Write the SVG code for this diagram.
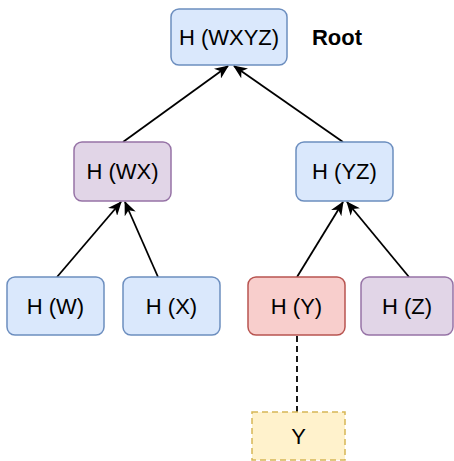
<svg xmlns="http://www.w3.org/2000/svg" width="454" height="461" viewBox="0 0 454 461">
<defs>
<marker id="arr" markerWidth="14" markerHeight="12" refX="13" refY="6" orient="auto" markerUnits="userSpaceOnUse">
<path d="M0,0 L14,6 L0,12 L4,6 Z" fill="#000"/>
</marker>
<style>
.n rect{stroke-width:1.5}
.blue rect{fill:#dae8fc;stroke:#6c8ebf}
.purple rect{fill:#e1d5e7;stroke:#9673a6}
.red rect{fill:#f8cecc;stroke:#b85450}
.yellow rect{fill:#fff2cc;stroke:#d6b656;stroke-dasharray:6 4}
text{font-family:"Liberation Sans",Arial,sans-serif;font-size:22px;fill:#000;text-anchor:middle;dominant-baseline:central}
.e{stroke:#000;stroke-width:1.8;fill:none}
</style>
</defs>
<rect width="454" height="461" fill="#fff"/>
<g id="connectors">
<line class="e" x1="123" y1="142" x2="228" y2="66" marker-end="url(#arr)"/>
<line class="e" x1="343" y1="142" x2="234" y2="66" marker-end="url(#arr)"/>
<line class="e" x1="57" y1="277" x2="121" y2="202" marker-end="url(#arr)"/>
<line class="e" x1="158" y1="277" x2="125" y2="202" marker-end="url(#arr)"/>
<line class="e" x1="297" y1="277" x2="343" y2="202" marker-end="url(#arr)"/>
<line class="e" x1="409" y1="277" x2="347" y2="202" marker-end="url(#arr)"/>
<line class="e" x1="297" y1="336" x2="297" y2="412" stroke-dasharray="6 4"/>
</g>
<g id="root" class="n blue"><rect x="171" y="9" width="116" height="56" rx="8"/><text x="229" y="37">H (WXYZ)</text></g>
<g id="root-label"><text x="337" y="37" style="font-weight:bold">Root</text></g>
<g id="hwx" class="n purple"><rect x="74" y="142" width="97" height="59" rx="8"/><text x="122.5" y="171.5">H (WX)</text></g>
<g id="hyz" class="n blue"><rect x="296" y="142" width="97" height="59" rx="8"/><text x="344.5" y="171.5">H (YZ)</text></g>
<g id="hw" class="n blue"><rect x="7" y="277" width="97" height="58" rx="8"/><text x="55.5" y="306">H (W)</text></g>
<g id="hx" class="n blue"><rect x="123" y="277" width="97" height="58" rx="8"/><text x="171.5" y="306">H (X)</text></g>
<g id="hy" class="n red"><rect x="248" y="277" width="97" height="58" rx="8"/><text x="296.5" y="306">H (Y)</text></g>
<g id="hz" class="n purple"><rect x="361" y="277" width="92" height="58" rx="8"/><text x="407" y="306">H (Z)</text></g>
<g id="y" class="n yellow"><rect x="252" y="412" width="93" height="48"/><text x="298.5" y="436">Y</text></g>
</svg>
